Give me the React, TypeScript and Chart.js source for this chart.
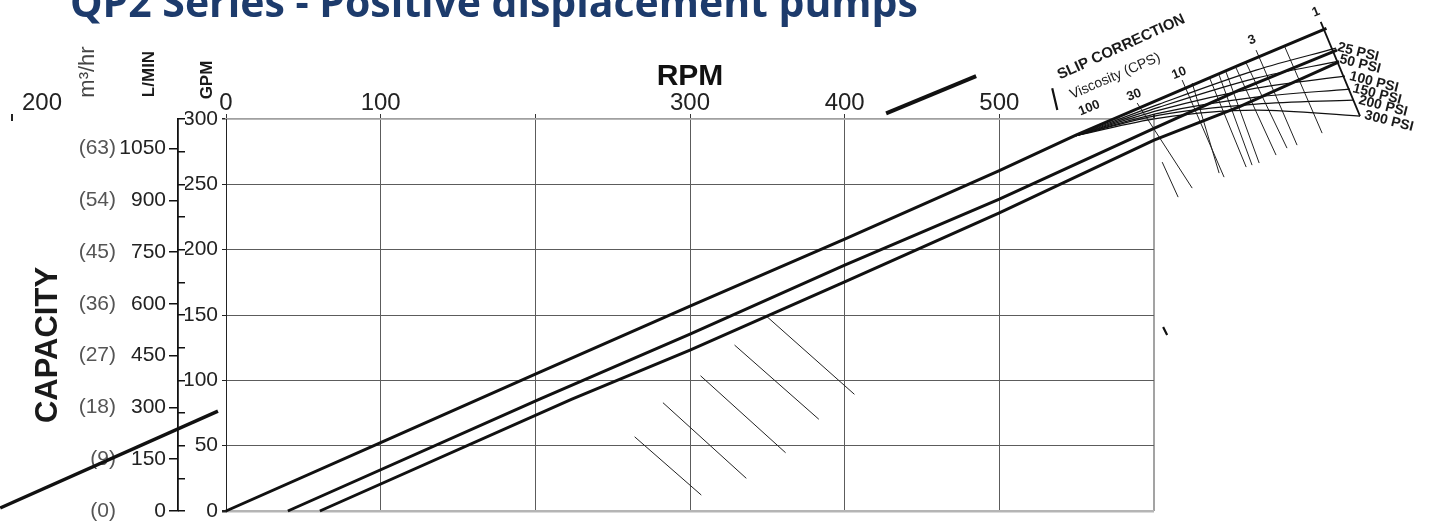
import { useEffect, useRef } from 'react';
import { Chart, registerables } from 'chart.js';

Chart.register(...registerables);

const FONT = '"Liberation Sans", Arial, Helvetica, sans-serif';

// ---------- axis ticks ----------
const rpmTicks = [0, 100, 200, 300, 400, 500, 600];
const rpmTickLabels = ['0', '100', '', '300', '400', '500', ''];
const gpmTicks = [0, 50, 100, 150, 200, 250, 300];
const gpmMinorTicks = [0, 25, 50, 75, 100, 125, 150, 175, 200, 225, 250, 275, 300];
const lpmTicks = [0, 150, 300, 450, 600, 750, 900, 1050];
const m3hTicks = [0, 9, 18, 27, 36, 45, 54, 63];

// ---------- pump capacity lines (RPM -> GPM) ----------
const lineA_rpm = [0, 100, 200, 300, 400, 500, 549.5, 655, 711.5];
const lineA_gpm = [0, 52.3, 104.8, 156.8, 208.0, 260.4, 287.7, 341.2, 369.3];
const lineB_rpm = [40, 202.8, 300, 400, 500, 600, 655, 718.3];
const lineB_gpm = [0, 85.7, 135.4, 188.2, 238.7, 292.8, 322.1, 352.7];
const lineC_rpm = [60.7, 223.3, 300, 400, 500, 600, 655, 719.6];
const lineC_gpm = [0, 85.5, 123.2, 175.4, 228.2, 283.9, 309.3, 343.8];

// ---------- slip correction: pressure curves ----------
const psi25_rpm = [549.7, 603.4, 666.0, 717.7];
const psi25_gpm = [287.3, 311.4, 337.4, 354.2];
const psi50_rpm = [549.7, 603.4, 666.0, 719.6];
const psi50_gpm = [287.3, 309.1, 331.3, 344.3];
const psi100_rpm = [549.7, 603.4, 666.0, 723.5];
const psi100_gpm = [287.3, 306.8, 323.6, 332.8];
const psi150_rpm = [549.7, 603.4, 666.0, 726.7];
const psi150_gpm = [287.3, 304.5, 316.7, 322.9];
const psi200_rpm = [549.7, 603.4, 666.0, 728.7];
const psi200_gpm = [287.3, 303.0, 311.4, 314.5];
const psi300_rpm = [549.7, 603.4, 666.0, 733.2];
const psi300_gpm = [287.3, 300.7, 306.8, 302.2];

// pressure scale line
const psiScale_rpm = [707.8, 733.2];
const psiScale_gpm = [374.4, 302.2];

// ---------- slip correction: viscosity strokes ----------
const viscStartRpm = [589.1, 605.3, 618.2, 624.7, 635.7, 642.1, 646.6, 653.1, 659.6, 666.0, 684.1];
const viscStartGpm = [312.2, 267.0, 329.8, 327.5, 332.1, 333.6, 335.9, 339.0, 342.8, 352.7, 356.5];
const viscEndRpm = [624.7, 615.6, 645.3, 642.1, 659.6, 663.4, 668.0, 678.9, 686.0, 692.5, 708.7];
const viscEndGpm = [247.1, 240.2, 255.5, 258.6, 263.2, 264.7, 266.3, 272.4, 277.7, 280.0, 289.2];

// viscosity scale marks (thick short strokes)
const viscMarkStartRpm = [534.2, 605.9];
const viscMarkStartGpm = [323.6, 140.8];
const viscMarkEndRpm = [537.5, 608.5];
const viscMarkEndGpm = [306.8, 134.7];

// ---------- slip strokes inside the plot ----------
const slipStartRpm = [264.2, 282.5, 306.8, 328.8, 349.3];
const slipStartGpm = [56.8, 82.9, 103.5, 127.0, 149.2];
const slipEndRpm = [307.3, 336.4, 361.8, 383.3, 406.3];
const slipEndGpm = [12.2, 25.0, 44.6, 70.2, 89.3];

// ---------- stray strokes of the original sheet ----------
const strayLeft_rpm = [-146, -5.2];
const strayLeft_gpm = [2.3, 76.5];
const strayTop_rpm = [426.8, 485];
const strayTop_gpm = [304.3, 332.8];

// ---------- texts ----------
const titleText = 'QP2 Series - Positive displacement pumps';
const viscosityLabels = ['100', '30', '10', '3', '1'];
const psiLabels = ['25 PSI', '50 PSI', '100 PSI', '150 PSI', '200 PSI', '300 PSI'];

const pts = (xs: number[], ys: number[]) => xs.map((x, i) => ({ x, y: ys[i] }));
const segs = (sx: number[], sy: number[], ex: number[], ey: number[]) =>
  sx.flatMap((x, i) => [
    { x, y: sy[i] },
    { x: ex[i], y: ey[i] },
    { x: ex[i], y: null as any },
  ]);

// label anchors (in chart units) for the slip-correction nomograph
const viscLabelPos = [
  [558.1, 308.3],
  [587.2, 318.3],
  [616.3, 335.1],
  [663.4, 360.4],
  [704.8, 381.8],
];
const psiLabelPos = [
  [731.9, 351.2],
  [733.2, 342.0],
  [742.2, 328.2],
  [744.2, 319.0],
  [748.1, 309.9],
  [751.9, 298.4],
];

function drawText(
  ctx: CanvasRenderingContext2D,
  text: string,
  x: number,
  y: number,
  font: string,
  color: string,
  angle = 0,
  align: CanvasTextAlign = 'center',
  baseline: CanvasTextBaseline = 'middle'
) {
  ctx.save();
  ctx.translate(x, y);
  ctx.rotate((angle * Math.PI) / 180);
  ctx.font = font;
  ctx.fillStyle = color;
  ctx.textAlign = align;
  ctx.textBaseline = baseline;
  ctx.fillText(text, 0, 0);
  ctx.restore();
}

const overlayPlugin = {
  id: 'overlay',
  afterDraw(chart: any) {
    const ctx: CanvasRenderingContext2D = chart.ctx;
    const xs = chart.scales.x;
    const ys = chart.scales.y;
    const px = (v: number) => xs.getPixelForValue(v);
    const py = (v: number) => ys.getPixelForValue(v);
    ctx.save();

    // title (cut off at the top, as in the sheet)
    ctx.font = `700 36px "Open Sans", ${FONT}`;
    const w = ctx.measureText(titleText).width;
    const size = (36 * 848) / w;
    drawText(ctx, titleText, 70, 17, `700 ${size}px "Open Sans", ${FONT}`, '#1d3b6c', 0, 'left', 'alphabetic');

    // axis captions
    drawText(ctx, 'CAPACITY', 48, 345, `bold 31px ${FONT}`, '#1a1a1a', -90);
    drawText(ctx, 'GPM', 207, 80, `bold 17px ${FONT}`, '#1a1a1a', -90);
    drawText(ctx, 'L/MIN', 149, 74, `bold 17px ${FONT}`, '#1a1a1a', -90);
    drawText(ctx, 'm³/hr', 88, 72, `22px ${FONT}`, '#444', -90);
    // stray label of the sheet
    drawText(ctx, '200', 42, 103, `24px ${FONT}`, '#222', 0);
    ctx.strokeStyle = '#222';
    ctx.lineWidth = 2;
    ctx.beginPath();
    ctx.moveTo(12, 114);
    ctx.lineTo(12, 121);
    ctx.stroke();

    // nomograph captions
    drawText(ctx, 'SLIP CORRECTION', px(578.8), py(355.0), `bold 15px ${FONT}`, '#1a1a1a', -24.5);
    drawText(ctx, 'Viscosity (CPS)', px(574.9), py(332.8), `14px ${FONT}`, '#222', -23.5);
    viscosityLabels.forEach((t, i) => {
      drawText(ctx, t, px(viscLabelPos[i][0]), py(viscLabelPos[i][1]), `bold 13px ${FONT}`, '#1a1a1a', -22);
    });
    psiLabels.forEach((t, i) => {
      drawText(ctx, t, px(psiLabelPos[i][0]), py(psiLabelPos[i][1]), `bold 14px ${FONT}`, '#1a1a1a', 14);
    });
    ctx.restore();
  },
};

export default function App() {
  const canvasRef = useRef<HTMLCanvasElement | null>(null);

  useEffect(() => {
    const canvas = canvasRef.current;
    if (!canvas) return;

    const thick = { borderColor: '#111', borderWidth: 3 };
    const curve = { borderColor: '#111', borderWidth: 1.2, cubicInterpolationMode: 'monotone' as const };
    const common = { showLine: true, pointRadius: 0, pointHoverRadius: 0, clip: false as any, fill: false };

    const chart = new Chart(canvas, {
      type: 'scatter',
      data: {
        datasets: [
          { ...common, ...thick, data: pts(lineA_rpm, lineA_gpm) },
          { ...common, ...thick, data: pts(lineB_rpm, lineB_gpm) },
          { ...common, ...thick, data: pts(lineC_rpm, lineC_gpm) },
          { ...common, ...curve, data: pts(psi25_rpm, psi25_gpm) },
          { ...common, ...curve, data: pts(psi50_rpm, psi50_gpm) },
          { ...common, ...curve, data: pts(psi100_rpm, psi100_gpm) },
          { ...common, ...curve, data: pts(psi150_rpm, psi150_gpm) },
          { ...common, ...curve, data: pts(psi200_rpm, psi200_gpm) },
          { ...common, ...curve, data: pts(psi300_rpm, psi300_gpm) },
          { ...common, borderColor: '#111', borderWidth: 1.8, data: pts(psiScale_rpm, psiScale_gpm) },
          { ...common, borderColor: '#222', borderWidth: 1, data: segs(viscStartRpm, viscStartGpm, viscEndRpm, viscEndGpm) },
          { ...common, borderColor: '#111', borderWidth: 2.2, data: segs(viscMarkStartRpm, viscMarkStartGpm, viscMarkEndRpm, viscMarkEndGpm) },
          { ...common, borderColor: '#222', borderWidth: 1, data: segs(slipStartRpm, slipStartGpm, slipEndRpm, slipEndGpm) },
          { ...common, borderColor: '#111', borderWidth: 3.5, data: pts(strayLeft_rpm, strayLeft_gpm) },
          { ...common, borderColor: '#111', borderWidth: 4, data: pts(strayTop_rpm, strayTop_gpm) },
        ] as any,
      },
      options: {
        responsive: false,
        devicePixelRatio: 1,
        animation: false,
        events: [],
        layout: { padding: { left: 70, right: 275, top: 0, bottom: 18 } },
        plugins: { legend: { display: false }, tooltip: { enabled: false }, title: { display: false } },
        scales: {
          x: {
            type: 'linear',
            position: 'top',
            bounds: 'data',
            // range fixed after data limits so that marks beyond it (nomograph) are still drawn
            afterDataLimits: (s: any) => {
              s.min = 0;
              s.max = 600;
            },
            afterBuildTicks: (s: any) => {
              s.ticks = rpmTicks.map((v) => ({ value: v }));
            },
            afterFit: (s: any) => {
              s.height = 119;
            },
            ticks: {
              autoSkip: false,
              maxRotation: 0,
              padding: -4,
              font: { family: FONT, size: 24 },
              color: '#222',
              callback: (v: any) => rpmTickLabels[rpmTicks.indexOf(Number(v))] ?? '',
            },
            grid: {
              color: (c: any) => (c.tick && c.tick.value === 600 ? '#a3a3a3' : '#5c5c5c'),
              lineWidth: (c: any) => (c.tick && c.tick.value === 600 ? 2 : 1),
              tickColor: '#333',
              tickLength: 5,
            },
            border: { display: true, color: '#a0a0a0', width: 1.5 },
            title: {
              display: true,
              text: 'RPM',
              color: '#111',
              font: { family: FONT, size: 30, weight: 'bold' },
              padding: { top: 59, bottom: 0 },
            },
          },
          y: {
            type: 'linear',
            position: 'left',
            weight: 0,
            bounds: 'data',
            afterDataLimits: (s: any) => {
              s.min = 0;
              s.max = 300;
            },
            afterBuildTicks: (s: any) => {
              s.ticks = gpmTicks.map((v) => ({ value: v }));
            },
            afterFit: (s: any) => {
              s.width = 41;
            },
            ticks: {
              autoSkip: false,
              padding: 4,
              font: { family: FONT, size: 21 },
              color: '#222',
            },
            grid: {
              color: (c: any) => {
                const v = c.tick && c.tick.value;
                return v === 0 ? '#b5b5b5' : v === 300 ? '#a0a0a0' : '#5c5c5c';
              },
              lineWidth: (c: any) => {
                const v = c.tick && c.tick.value;
                return v === 0 ? 2.5 : v === 300 ? 1.5 : 1;
              },
              tickColor: '#222',
              tickLength: 4,
            },
            border: { display: true, color: '#222', width: 1 },
          },
          yMinor: {
            type: 'linear',
            position: 'left',
            weight: 1,
            min: 0,
            max: 300,
            afterBuildTicks: (s: any) => {
              s.ticks = gpmMinorTicks.map((v) => ({ value: v }));
            },
            afterFit: (s: any) => {
              s.width = 7;
            },
            ticks: { display: false, autoSkip: false },
            grid: { drawOnChartArea: false, drawTicks: true, tickLength: 7, color: '#111', tickColor: '#111', lineWidth: 1.5 },
            border: { display: false },
          },
          yLpm: {
            type: 'linear',
            position: 'left',
            weight: 2,
            min: 0,
            max: 300 * 3.785411784,
            afterBuildTicks: (s: any) => {
              s.ticks = lpmTicks.map((v) => ({ value: v }));
            },
            afterFit: (s: any) => {
              s.width = 62;
            },
            ticks: {
              autoSkip: false,
              padding: 3,
              font: { family: FONT, size: 21 },
              color: '#222',
              callback: (v: any) => String(v),
            },
            grid: { drawOnChartArea: false, drawTicks: true, tickLength: 9, color: '#111', tickColor: '#111', lineWidth: 1.5 },
            border: { display: true, color: '#111', width: 1.8 },
          },
          yM3h: {
            type: 'linear',
            position: 'left',
            weight: 3,
            min: 0,
            max: 300 * 0.2271247,
            afterBuildTicks: (s: any) => {
              s.ticks = m3hTicks.map((v) => ({ value: v }));
            },
            afterFit: (s: any) => {
              s.width = 46;
            },
            ticks: {
              autoSkip: false,
              padding: 0,
              font: { family: FONT, size: 21 },
              color: '#555',
              callback: (v: any) => `(${v})`,
            },
            grid: { display: false, drawOnChartArea: false, drawTicks: false },
            border: { display: false },
          },
        } as any,
      },
      plugins: [overlayPlugin],
    });

    return () => chart.destroy();
  }, []);

  return (
    <div style={{ position: 'fixed', left: 0, top: 0, width: 1429, height: 529, background: '#fff' }}>
      <canvas ref={canvasRef} width={1429} height={529} style={{ display: 'block' }} />
    </div>
  );
}
